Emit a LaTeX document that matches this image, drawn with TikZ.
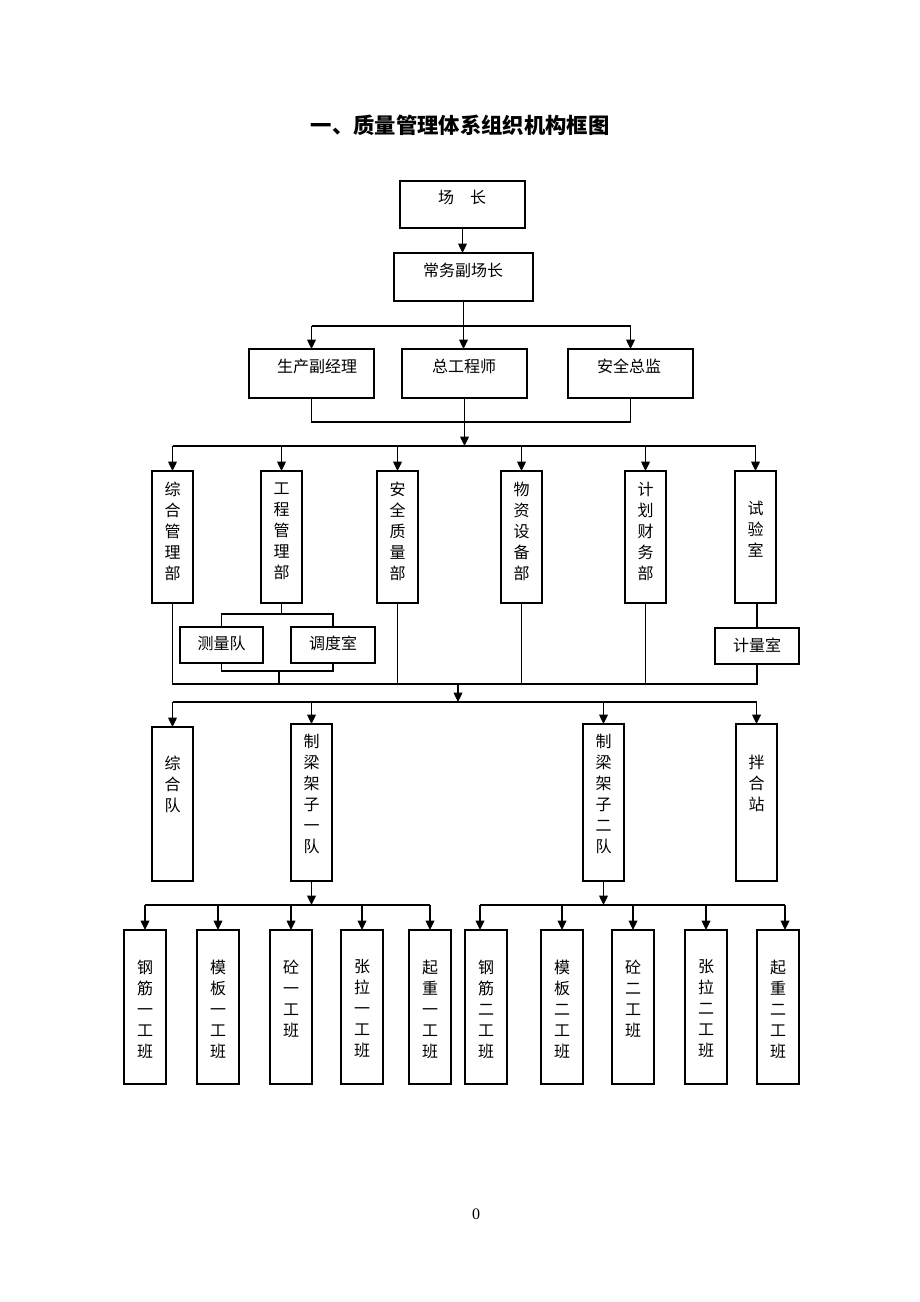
\documentclass[tikz,border=0pt]{standalone}
\usepackage{fontspec}
\setmainfont{Liberation Serif}
\newfontfamily\cjk{Noto Sans CJK SC}
\usetikzlibrary{arrows.meta,calc}
\newcommand\mkbox[5]{\node[box,minimum width={(#4-#2)*0.75pt},minimum height={(#5-#3)*0.75pt}] (#1) at ({(#2+#4)/2},{(#3+#5)/2}) {};}
\begin{document}
\begin{tikzpicture}[x=0.75pt,y=-0.75pt,
 box/.style={draw,line width=1.1pt,inner sep=0pt,outer sep=0pt},
 txt/.style={font=\cjk\fontsize{12}{15.75}\selectfont,inner sep=0pt,align=center},
 ln/.style={line width=1pt},
 arr/.style={line width=1pt,-{Triangle[length=7pt,width=6.5pt]}},
]
\fill[white] (0,0) rectangle (920,1302);
\useasboundingbox (0,0) rectangle (920,1302);

% title
\node[font=\cjk\bfseries\fontsize{16}{20}\selectfont,inner sep=0pt] (title) at (460,125) {一、质量管理体系组织机构框图};

% top levels
\mkbox{cz}{400}{181}{525}{228}
\node[txt] (tcz) at (462,197) {场　长};
\mkbox{cwf}{394}{253}{533}{301}
\node[txt] (tcwf) at (463,270) {常务副场长};
\mkbox{sc}{249}{349}{374}{398}
\node[txt] (tsc) at (317,366) {生产副经理};
\mkbox{zg}{402}{349}{527}{398}
\node[txt] (tzg) at (464,366) {总工程师};
\mkbox{aq}{568}{349}{693}{398}
\node[txt] (taq) at (629,366) {安全总监};

\draw[arr] (cz.south) -- (cz.south |- cwf.north);
\coordinate (b1) at (463,326);
\draw[ln] (sc.north |- b1) -- (aq.north |- b1);
\draw[arr] (sc.north |- b1) -- (sc.north);
\draw[arr] (cwf.south) -- (cwf.south |- zg.north);
\draw[arr] (aq.north |- b1) -- (aq.north);

\coordinate (b2) at (465,422);
\coordinate (b3) at (465,446);
\draw[ln] (sc.south) |- (b2) -| (aq.south);
\draw[arr] (zg.south) -- (zg.south |- b3);

% departments
\mkbox{d1}{152}{471}{193}{603}
\mkbox{d2}{261}{471}{302}{603}
\mkbox{d3}{377}{471}{418}{603}
\mkbox{d4}{501}{471}{542}{603}
\mkbox{d5}{625}{471}{666}{603}
\mkbox{d6}{735}{471}{776}{603}
\node[txt] (td1) at (172.5,531) {综\\合\\管\\理\\部};
\node[txt] (td2) at (281.5,531) {工\\程\\管\\理\\部};
\node[txt] (td3) at (397.5,531) {安\\全\\质\\量\\部};
\node[txt] (td4) at (521.5,531) {物\\资\\设\\备\\部};
\node[txt] (td5) at (645.5,531) {计\\划\\财\\务\\部};
\node[txt] (td6) at (755.5,529) {试\\验\\室};

\draw[ln] (d1.north |- b3) -- (d6.north |- b3);
\foreach \d in {d1,d2,d3,d4,d5,d6}{\draw[arr] (\d.north |- b3) -- (\d.north);}

% sub boxes
\mkbox{cl}{180}{627}{263}{663}
\mkbox{dd}{291}{627}{375}{663}
\mkbox{jl}{715}{628}{799}{664}
\node[txt] (tcl) at (221.5,643) {测量队};
\node[txt] (tdd) at (333,643) {调度室};
\node[txt] (tjl) at (757,645) {计量室};

\coordinate (k1) at (281.5,614);
\coordinate (k2) at (279,671);
\coordinate (b4) at (458,684);
\draw[ln] (d2.south) -- (k1);
\draw[ln] (cl.north) |- (k1) -| (dd.north);
\draw[ln] (cl.south) |- (k2) -| (dd.south);
\draw[ln] (k2) -- (k2 |- b4);
\draw[ln] (jl.north) -- (jl.north |- d6.south);
\draw[ln] (d1.south) -- (d1.south |- b4) -- (jl.south |- b4) -- (jl.south);
\foreach \d in {d3,d4,d5}{\draw[ln] (\d.south) -- (\d.south |- b4);}

% teams
\coordinate (b5) at (458,702);
\draw[arr] (b4) -- (b5);
\mkbox{e1}{152}{727}{193}{881}
\mkbox{e2}{291}{724}{332}{881}
\mkbox{e3}{583}{724}{624}{881}
\mkbox{e4}{736}{724}{777}{881}
\node[txt] (te1) at (172.5,784) {综\\合\\队};
\node[txt] (te2) at (311.5,793.5) {制\\梁\\架\\子\\一\\队};
\node[txt] (te3) at (603.5,793.5) {制\\梁\\架\\子\\二\\队};
\node[txt] (te4) at (756.5,783) {拌\\合\\站};
\draw[ln] (e1.north |- b5) -- (e4.north |- b5);
\foreach \e in {e1,e2,e3,e4}{\draw[arr] (\e.north |- b5) -- (\e.north);}

% work groups 1
\coordinate (b6) at (312,905);
\draw[arr] (e2.south) -- (e2.south |- b6);
\mkbox{f1}{124}{930}{166}{1084}
\mkbox{f2}{197}{930}{239}{1084}
\mkbox{f3}{270}{930}{312}{1084}
\mkbox{f4}{341}{930}{383}{1084}
\mkbox{f5}{409}{930}{451}{1084}
\node[txt] (tf1) at (145,1009) {钢\\筋\\一\\工\\班};
\node[txt] (tf2) at (218,1009) {模\\板\\一\\工\\班};
\node[txt] (tf3) at (291,998.5) {砼\\一\\工\\班};
\node[txt] (tf4) at (362,1009) {张\\拉\\一\\工\\班};
\node[txt] (tf5) at (430,1009) {起\\重\\一\\工\\班};
\draw[ln] (f1.north |- b6) -- (f5.north |- b6);
\foreach \f in {f1,f2,f3,f4,f5}{\draw[arr] (\f.north |- b6) -- (\f.north);}

% work groups 2
\coordinate (b7) at (604,905);
\draw[arr] (e3.south) -- (e3.south |- b7);
\mkbox{g1}{465}{930}{507}{1084}
\mkbox{g2}{541}{930}{583}{1084}
\mkbox{g3}{612}{930}{654}{1084}
\mkbox{g4}{685}{930}{727}{1084}
\mkbox{g5}{757}{930}{799}{1084}
\node[txt] (tg1) at (486,1009) {钢\\筋\\二\\工\\班};
\node[txt] (tg2) at (562,1009) {模\\板\\二\\工\\班};
\node[txt] (tg3) at (633,998.5) {砼\\二\\工\\班};
\node[txt] (tg4) at (706,1009) {张\\拉\\二\\工\\班};
\node[txt] (tg5) at (778,1009) {起\\重\\二\\工\\班};
\coordinate (g1a) at ($(g1.north)+(-6,0)$);
\coordinate (g5a) at ($(g5.north)+(7,0)$);
\draw[ln] (g1a |- b7) -- (g5a |- b7);
\draw[arr] (g1a |- b7) -- (g1a);
\foreach \g in {g2,g3,g4}{\draw[arr] (\g.north |- b7) -- (\g.north);}
\draw[arr] (g5a |- b7) -- (g5a);

% page number
\node[font=\fontsize{12}{14}\selectfont,inner sep=0pt] (pg) at (476,1214) {0};
\end{tikzpicture}
\end{document}
